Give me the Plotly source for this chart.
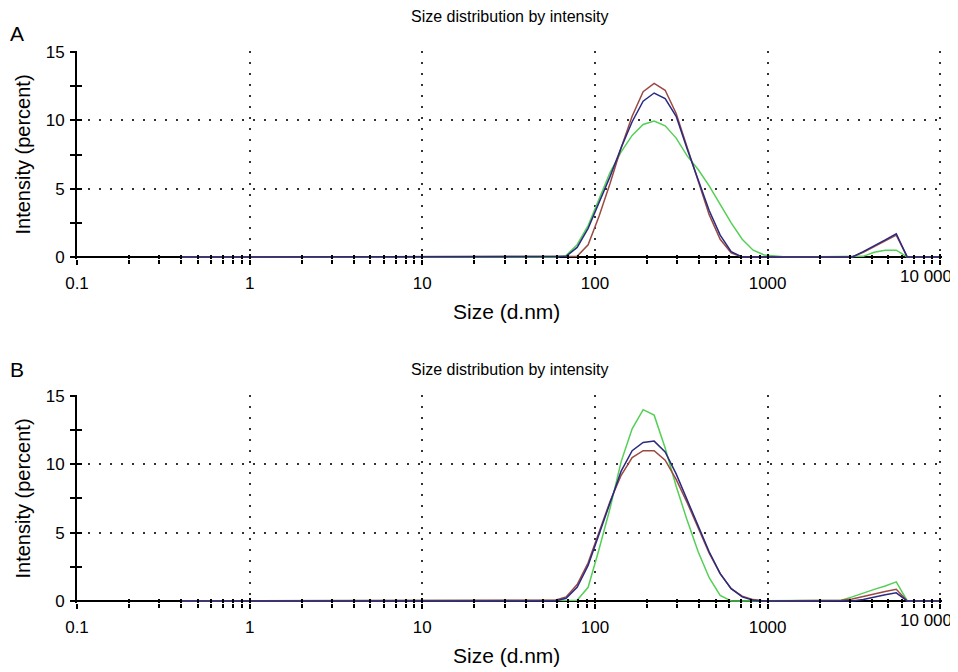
import plotly.graph_objects as go

# ---------------- data ----------------
sizes = [0.4, 0.4632, 0.5365, 0.6213, 0.7195, 0.8332, 0.9649, 1.117, 1.294, 1.499,
         1.736, 2.01, 2.328, 2.696, 3.122, 3.615, 4.187, 4.849, 5.615, 6.503,
         7.531, 8.721, 10.1, 11.7, 13.54, 15.69, 18.17, 21.04, 24.36, 28.21,
         32.67, 37.84, 43.82, 50.75, 58.77, 68.06, 78.82, 91.28, 105.7, 122.4,
         141.8, 164.2, 190.1, 220.2, 255.0, 295.3, 342.0, 396.1, 458.7, 531.2,
         615.1, 712.4, 825.0, 955.4, 1106, 1281, 1484, 1718, 1990, 2305,
         2669, 3091, 3580, 4145, 4801, 5560, 6439, 7456, 8635, 10000]

# Panel A
a_green = [0]*30 + [0, 0, 0, 0, 0, 0.1, 0.9, 2.3, 4.3, 6.2,
                    7.7, 8.9, 9.7, 9.95, 9.6, 8.7, 7.4, 6.4, 5.2, 3.8,
                    2.5, 1.3, 0.5, 0.15, 0.05, 0, 0, 0, 0, 0,
                    0, 0, 0.05, 0.35, 0.5, 0.5, 0, 0, 0, 0]
a_red = [0]*30 + [0, 0, 0, 0, 0, 0, 0.05, 0.9, 3.0, 5.4,
                  8.0, 10.3, 12.1, 12.7, 12.2, 10.5, 8.0, 5.5, 3.1, 1.3,
                  0.3, 0, 0, 0, 0, 0, 0, 0, 0, 0,
                  0, 0, 0.35, 0.75, 1.2, 1.6, 0, 0, 0, 0]
a_blue = [0]*30 + [0, 0, 0, 0, 0, 0.05, 0.7, 2.1, 4.0, 5.9,
                   8.0, 9.9, 11.4, 12.0, 11.6, 10.3, 7.9, 5.6, 3.4, 1.6,
                   0.4, 0, 0, 0, 0, 0, 0, 0, 0, 0,
                   0, 0, 0.4, 0.8, 1.25, 1.7, 0, 0, 0, 0]

# Panel B
b_green = [0]*30 + [0, 0, 0, 0, 0, 0, 0.05, 1.0, 3.8, 6.8,
                    10.2, 12.6, 14.0, 13.6, 11.2, 8.4, 5.9, 3.6, 1.7, 0.4,
                    0, 0, 0, 0, 0, 0, 0, 0, 0, 0,
                    0.05, 0.3, 0.6, 0.85, 1.1, 1.4, 0, 0, 0, 0]
b_red = [0]*30 + [0, 0, 0, 0, 0.05, 0.3, 1.2, 2.8, 5.0, 7.3,
                  9.2, 10.5, 11.0, 11.0, 10.3, 8.9, 7.2, 5.3, 3.5, 2.0,
                  0.9, 0.35, 0.1, 0, 0, 0, 0, 0, 0, 0,
                  0.05, 0.15, 0.35, 0.55, 0.7, 0.85, 0, 0, 0, 0]
b_blue = [0]*30 + [0, 0, 0, 0, 0, 0.2, 1.0, 2.6, 4.9, 7.3,
                   9.5, 11.0, 11.6, 11.7, 10.9, 9.3, 7.4, 5.5, 3.6, 2.0,
                   0.9, 0.3, 0.05, 0, 0, 0, 0, 0, 0, 0,
                   0, 0, 0.1, 0.3, 0.45, 0.6, 0, 0, 0, 0]

x_major = [0.1, 1, 10, 100, 1000, 10000]
x_major_text = ["0.1", "1", "10", "100", "1000", ""]
x_minor = [m * d for d in [0.1, 1, 10, 100, 1000] for m in range(2, 10)]
y_major = [0, 5, 10, 15]
y_minor = [2.5, 7.5, 12.5]

title_text = "Size distribution by intensity"
x_title = "Size (d.nm)"
y_title = "Intensity (percent)"
panel_labels = ["A", "B"]

# ---------------- styling ----------------
GREEN = "#55cf55"
RED = "#9a4a42"
BLUE = "#2a2a82"
FONT = "Liberation Sans, Arial, sans-serif"
OFF = 8                      # page body margin of the html document
W, H = 958 - OFF, 672 - OFF
ML, MR, MT, MB = 77 - OFF, 16, 51 - OFF, 69
XR = [-1, 4.01]
YR = [-0.12, 15.05]
DOM_TOP = [0.6238, 0.9994]
DOM_BOT = [0.0007, 0.3762]

fig = go.Figure()

panels = [
    (("x", "y"), (a_green, a_red, a_blue)),
    (("x2", "y2"), (b_green, b_red, b_blue)),
]
for (xa, ya), series in panels:
    for vals, col in zip(series, (GREEN, RED, BLUE)):
        fig.add_trace(go.Scatter(x=sizes, y=vals, mode="lines", xaxis=xa, yaxis=ya,
                                 line=dict(color=col, width=1.5), showlegend=False,
                                 hoverinfo="skip"))

# invisible helpers so overlay axes (inside half of the crossing ticks) are drawn
for xa, ya in (("x3", "y3"), ("x4", "y4")):
    fig.add_trace(go.Scatter(x=[None], y=[None], xaxis=xa, yaxis=ya, mode="markers",
                             showlegend=False, hoverinfo="skip"))

grid = dict(showgrid=True, gridcolor="#333333", gridwidth=1.6, griddash="2px,9px")
tickfont = dict(family=FONT, size=17, color="black")


def x_axis(anchor):
    return dict(type="log", range=XR, domain=[0, 1], anchor=anchor,
                showline=False, zeroline=False, layer="below traces",
                tickmode="array", tickvals=x_major, ticktext=x_major_text,
                ticks="outside", ticklen=5, tickwidth=1.6, tickcolor="black",
                minor=dict(tickmode="array", tickvals=x_minor, ticks="outside",
                           ticklen=4, tickwidth=1.6, tickcolor="black", showgrid=False),
                tickfont=tickfont, ticklabelstandoff=4, **grid)


def y_axis(anchor, dom):
    return dict(range=YR, domain=dom, anchor=anchor,
                showline=True, linecolor="black", linewidth=2,
                zeroline=True, zerolinecolor="black", zerolinewidth=2,
                layer="below traces",
                tickmode="array", tickvals=y_major,
                ticks="outside", ticklen=5, tickwidth=1.6, tickcolor="black",
                minor=dict(tickmode="array", tickvals=y_minor, ticks="outside",
                           ticklen=5, tickwidth=1.6, tickcolor="black", showgrid=False),
                tickfont=tickfont, ticklabelstandoff=2, **grid)


def x_over(over, anchor):
    return dict(type="log", range=XR, overlaying=over, anchor=anchor,
                showline=False, zeroline=False, showgrid=False, showticklabels=False,
                tickmode="array", tickvals=x_major, ticks="inside", ticklen=5,
                tickwidth=1.6, tickcolor="black",
                minor=dict(tickmode="array", tickvals=x_minor, ticks="inside",
                           ticklen=4, tickwidth=1.6, tickcolor="black", showgrid=False))


def y_over(over, anchor):
    return dict(range=YR, overlaying=over, anchor=anchor, side="left",
                showline=False, zeroline=False, showgrid=False, showticklabels=False,
                tickmode="array", tickvals=y_major, ticks="inside", ticklen=5,
                tickwidth=1.6, tickcolor="black",
                minor=dict(tickmode="array", tickvals=y_minor, ticks="inside",
                           ticklen=5, tickwidth=1.6, tickcolor="black", showgrid=False))


fig.update_layout(
    width=W, height=H,
    margin=dict(l=ML, r=MR, t=MT, b=MB, autoexpand=False),
    paper_bgcolor="white", plot_bgcolor="white",
    xaxis=x_axis("y"), yaxis=y_axis("x", DOM_TOP),
    xaxis2=x_axis("y2"), yaxis2=y_axis("x2", DOM_BOT),
    xaxis3=x_over("x", "y3"), yaxis3=y_over("y", "x3"),
    xaxis4=x_over("x2", "y4"), yaxis4=y_over("y2", "x4"),
)


# positions below are given in window pixels of the reference
def px_to_paper_x(px):
    return (px - OFF - ML) / (W - ML - MR)


def px_to_paper_y(py):
    return (H - MB - (py - OFF)) / (H - MT - MB)


ann = []
for i, (ttl_y, lab_y, xt_y, tick_y, yc) in enumerate([(17, 33, 311, 276, 154.5),
                                                      (369, 369, 655, 620, 498.5)]):
    ann.append(dict(text=title_text, x=px_to_paper_x(509), y=px_to_paper_y(ttl_y),
                    xref="paper", yref="paper", xanchor="center", yanchor="middle",
                    showarrow=False, font=dict(family=FONT, size=16, color="black")))
    ann.append(dict(text=panel_labels[i], x=px_to_paper_x(17), y=px_to_paper_y(lab_y),
                    xref="paper", yref="paper", xanchor="center", yanchor="middle",
                    showarrow=False, font=dict(family=FONT, size=21, color="black")))
    ann.append(dict(text=x_title, x=px_to_paper_x(506), y=px_to_paper_y(xt_y),
                    xref="paper", yref="paper", xanchor="center", yanchor="middle",
                    showarrow=False, font=dict(family=FONT, size=21, color="black")))
    ann.append(dict(text=y_title, x=px_to_paper_x(22), y=px_to_paper_y(yc),
                    xref="paper", yref="paper", xanchor="center", yanchor="middle",
                    textangle=-90, showarrow=False,
                    font=dict(family=FONT, size=20, color="black")))
    ann.append(dict(text="10 000", x=px_to_paper_x(954), y=px_to_paper_y(tick_y),
                    xref="paper", yref="paper", xanchor="right", yanchor="middle",
                    showarrow=False, font=tickfont))
fig.update_layout(annotations=ann)

fig.write_html("out.html")
